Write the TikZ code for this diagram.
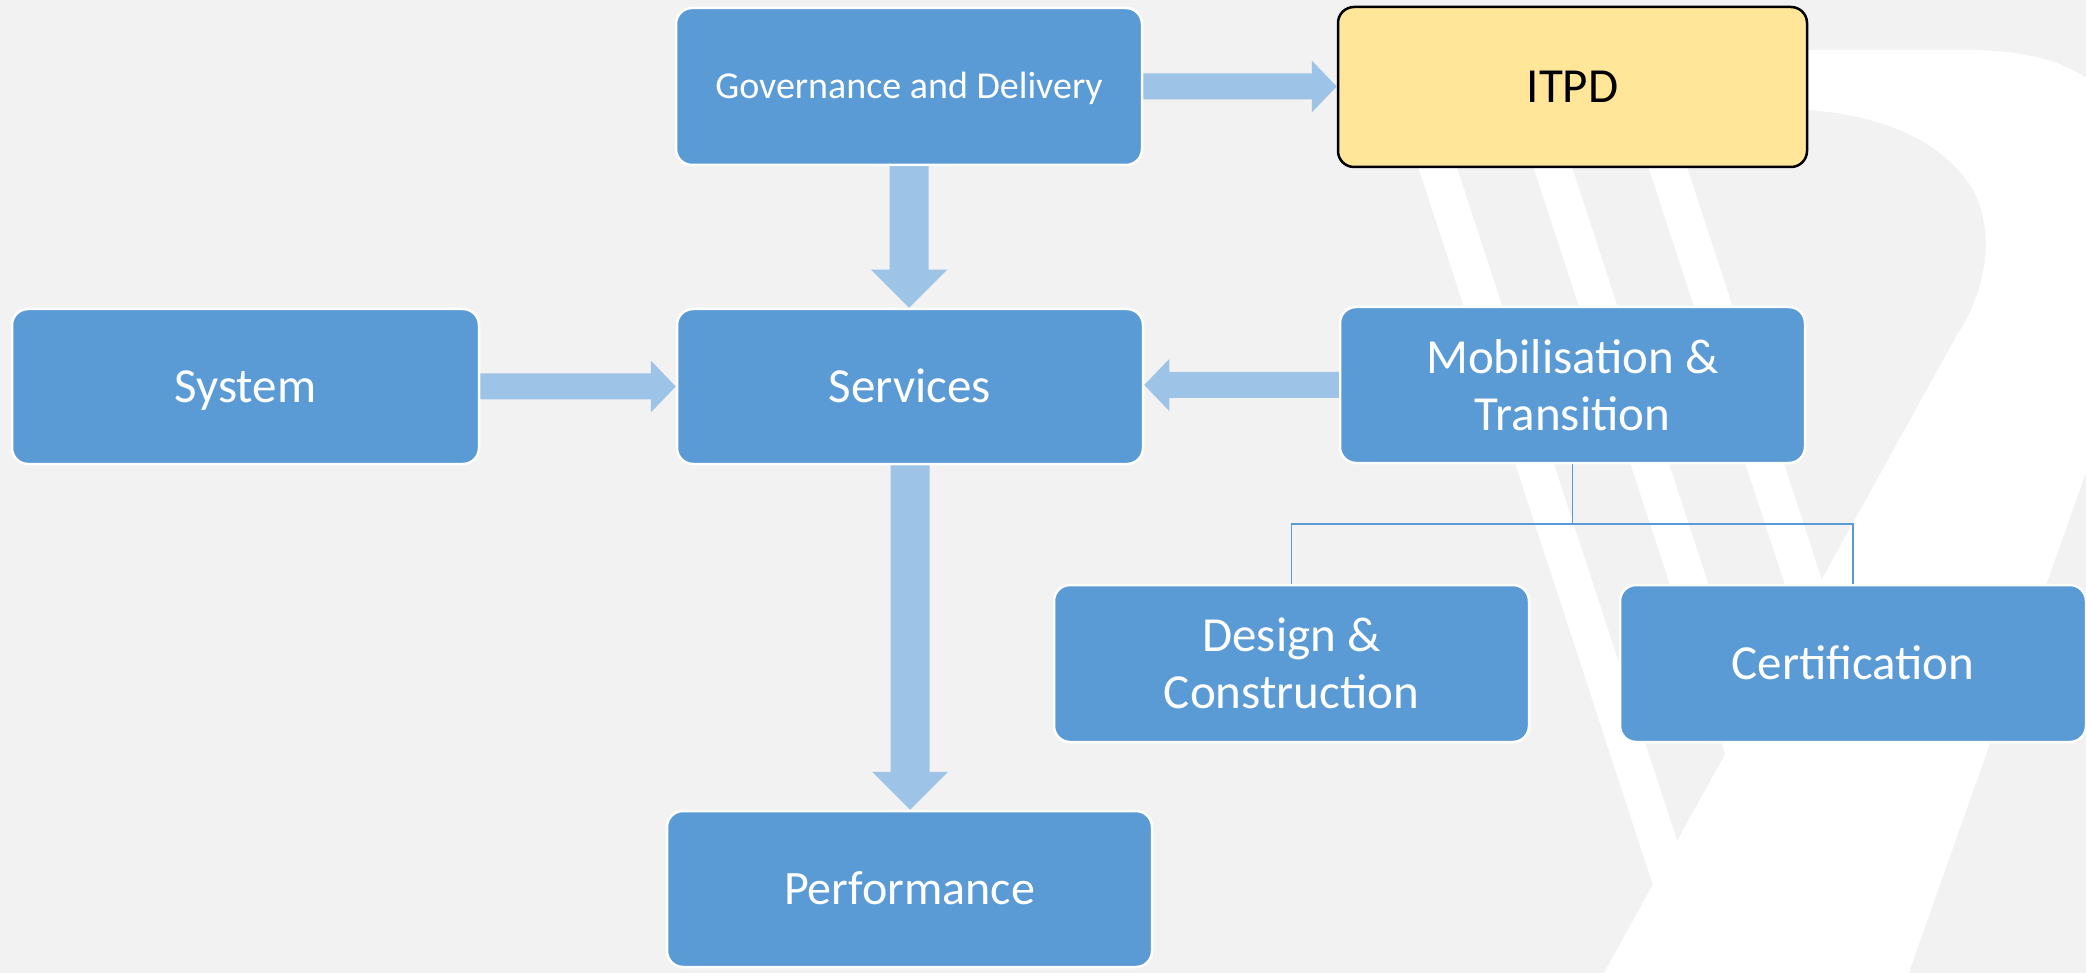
\documentclass[tikz,border=0pt]{standalone}
\usepackage{fontspec}
\setmainfont{Carlito}
\usetikzlibrary{calc}
\definecolor{pagegrey}{HTML}{F2F2F2}
\definecolor{boxblue}{HTML}{5B9BD5}
\definecolor{arrowblue}{HTML}{9DC3E6}
\definecolor{itpdfill}{HTML}{FFE699}

\begin{document}
\begin{tikzpicture}[x=1pt,y=-1pt,
  box/.style={draw=white, line width=2.5pt, fill=boxblue, rounded corners=16pt,
    text=white, align=center, inner sep=0pt,
    font=\fontsize{49}{57}\selectfont},
  oneline/.style={text height=31.5pt, text depth=0pt},
  govbox/.style={box, font=\fontsize{38}{45}\selectfont, text height=24.5pt, text depth=0pt},
  itpdbox/.style={box, oneline, draw=black, fill=itpdfill, text=black},
  blockarrow/.style={fill=arrowblue},
  treeline/.style={draw=boxblue, line width=1.5pt}
]
% page and its bounds
\useasboundingbox (0,0) rectangle (2086,973);
\fill[pagegrey] (0,0) rectangle (2086,973);

% watermark logo
\begin{scope}
\clip (0,0) rectangle (2086,973);
\fill[white] (1400,50) -- (1960,50) .. controls (2020,49) and (2060,60) .. (2086,78)
  -- (2250,78) -- (2147,300) -- (1892,1020) -- (1578,1020) -- (1957,335)
  .. controls (1990,285) and (1995,225) .. (1970,185)
  .. controls (1940,140) and (1880,112) .. (1790,109) -- (1400,109) -- cycle;
\fill[white] (1402.8,120) -- (1441.4,120) -- (1677.2,841.1) -- (1652.9,885.0) -- cycle;
\fill[white] (1518,120) -- (1556.6,120) -- (1749.6,710.2) -- (1725.3,754.1) -- cycle;
\fill[white] (1633,120) -- (1671.6,120) -- (1821.8,579.5) -- (1797.6,623.4) -- cycle;
\end{scope}

% boxes
\node[govbox, minimum width=466pt, minimum height=157pt] (gov) at (909,86.5) {Governance and Delivery};
\node[itpdbox, minimum width=469pt, minimum height=160pt] (itpd) at (1572.5,87) {ITPD};
\node[box, oneline, minimum width=467pt, minimum height=155pt] (sys) at (245.5,386.5) {System};
\node[box, oneline, minimum width=466pt, minimum height=155pt] (svc) at (910,386.5) {Services};
\node[box, minimum width=465pt, minimum height=156pt] (mob) at (1572.5,385) {Mobilisation \&\\Transition};
\node[box, minimum width=475pt, minimum height=157pt] (dc) at (1291.5,663.5) {Design \&\\Construction};
\node[box, oneline, minimum width=466pt, minimum height=157pt] (cert) at (1853,663.5) {Certification};
\node[box, oneline, minimum width=485pt, minimum height=156pt, font=\fontsize{48}{56}\selectfont] (perf) at (909.5,889) {Performance};

% block arrows
\fill[blockarrow] let \p1=(gov.east), \p2=(itpd.west) in
  (\x1,\y1+13pt) -- (\x2-25pt,\y1+13pt) -- (\x2-25pt,\y1+26pt) -- (\x2,\y1)
  -- (\x2-25pt,\y1-26pt) -- (\x2-25pt,\y1-13pt) -- (\x1,\y1-13pt) -- cycle;
\fill[blockarrow] let \p1=(sys.east), \p2=(svc.west) in
  (\x1,\y1+13pt) -- (\x2-25pt,\y1+13pt) -- (\x2-25pt,\y1+26pt) -- (\x2,\y1)
  -- (\x2-25pt,\y1-26pt) -- (\x2-25pt,\y1-13pt) -- (\x1,\y1-13pt) -- cycle;
\fill[blockarrow] let \p1=(mob.west), \p2=(svc.east) in
  (\x1,\y1+13pt) -- (\x2+25pt,\y1+13pt) -- (\x2+25pt,\y1+26pt) -- (\x2,\y1)
  -- (\x2+25pt,\y1-26pt) -- (\x2+25pt,\y1-13pt) -- (\x1,\y1-13pt) -- cycle;
\fill[blockarrow] let \p1=(gov.south), \p2=(svc.north) in
  (\x1-19.5pt,\y1) -- (\x1-19.5pt,\y2+38pt) -- (\x1-38pt,\y2+38pt) -- (\x1,\y2)
  -- (\x1+38pt,\y2+38pt) -- (\x1+19.5pt,\y2+38pt) -- (\x1+19.5pt,\y1) -- cycle;
\fill[blockarrow] let \p1=(svc.south), \p2=(perf.north) in
  (\x1-19.5pt,\y1) -- (\x1-19.5pt,\y2+38pt) -- (\x1-38pt,\y2+38pt) -- (\x1,\y2)
  -- (\x1+38pt,\y2+38pt) -- (\x1+19.5pt,\y2+38pt) -- (\x1+19.5pt,\y1) -- cycle;

% tree connector
\coordinate (split) at (1572.5,524);
\draw[treeline] (mob.south) -- (split);
\draw[treeline] (split) -| (dc.north);
\draw[treeline] (split) -| (cert.north);
\end{tikzpicture}
\end{document}
